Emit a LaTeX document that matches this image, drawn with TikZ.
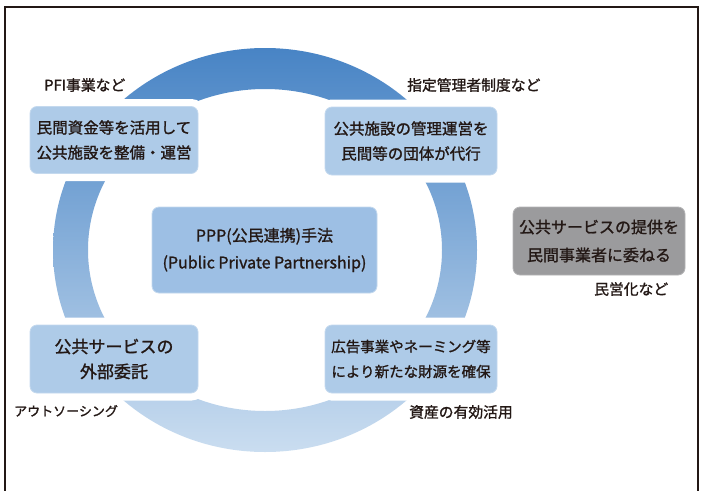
\documentclass[tikz,border=0pt]{standalone}
\usepackage{fontspec}
\setmainfont{Noto Sans CJK JP}[FakeBold=1.3]
\definecolor{ink}{HTML}{231815}
\definecolor{ringtop}{HTML}{4884C5}
\definecolor{ringmid}{HTML}{6FA2D6}
\definecolor{ringbot}{HTML}{CADDF0}
\definecolor{boxblue}{HTML}{AECBE8}
\definecolor{boxedge}{HTML}{C4D9EE}
\definecolor{centerblue}{HTML}{9DBFE4}
\definecolor{greybox}{HTML}{9B9B9D}
\definecolor{greyedge}{HTML}{B4B4B6}
\begin{document}
\begin{tikzpicture}[x=1pt,y=-1pt,
  box/.style={rounded corners=7pt, fill=boxblue, draw=boxedge, line width=0.8pt,
    preaction={draw=white, line width=15pt},
    inner sep=0pt, minimum width=168pt, minimum height=67pt, align=center,
    text=ink, font=\fontsize{15.5}{25}\selectfont},
  lbl/.style={anchor=west, inner sep=0pt, text=ink, font=\fontsize{14.8}{16}\selectfont}]
\useasboundingbox (0,0) rectangle (701,490);
\fill[white] (0,0) rectangle (701,490);
% ring
\shade[top color=ringtop, middle color=ringmid, bottom color=ringbot, even odd rule]
  (265,250) ellipse [x radius=212pt, y radius=202pt]
  (265,250) ellipse [x radius=177pt, y radius=161pt];
% boxes
\node[box] (tl) at (114,140) {民間資金等を活用して\\公共施設を整備・運営};
\node[box, minimum width=172pt, minimum height=68pt] (tr) at (411,141) {公共施設の管理運営を\\民間等の団体が代行};
\node[box, fill=centerblue, minimum width=225pt, minimum height=86pt,
  font=\fontsize{16}{27}\selectfont] (c) at (264.5,250) {PPP(公民連携)手法\\(Public Private Partnership)};
\node[box, minimum height=68pt, font=\fontsize{17}{25}\selectfont] (bl) at (114,359) {公共サービスの\\外部委託};
\node[box, minimum width=172pt, minimum height=68pt, font=\fontsize{14.5}{25}\selectfont] (br) at (411,359) {広告事業やネーミング等\\により新たな財源を確保};
\node[box, fill=greybox, draw=greyedge, minimum width=172pt, minimum height=68pt,
  font=\fontsize{16}{28}\selectfont] (g) at (599,241) {公共サービスの提供を\\民間事業者に委ねる};
% labels
\node[lbl] (l1) at (44,85) {PFI事業など};
\node[lbl] (l2) at (407,85) {指定管理者制度など};
\node[lbl, font=\fontsize{13}{16}\selectfont] (l3) at (14,411) {アウトソーシング};
\node[lbl] (l4) at (409,412) {資産の有効活用};
\node[lbl] (l5) at (594,289) {民営化など};
% frame
\draw[ink, line width=2.6pt] (5,492) -- (5,7) -- (698,7) -- (698,492);
\end{tikzpicture}
\end{document}
